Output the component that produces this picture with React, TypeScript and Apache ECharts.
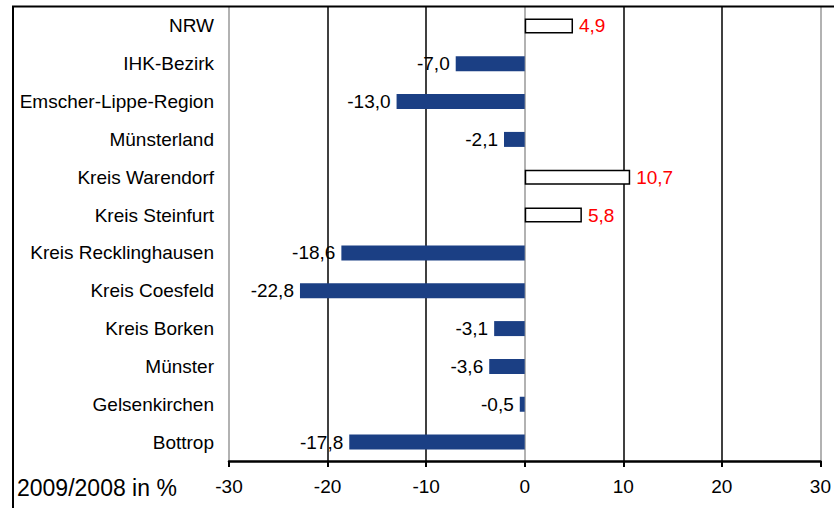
import React, { useEffect, useRef } from "react";
import * as echarts from "echarts";

const categories = [
  "NRW",
  "IHK-Bezirk",
  "Emscher-Lippe-Region",
  "Münsterland",
  "Kreis Warendorf",
  "Kreis Steinfurt",
  "Kreis Recklinghausen",
  "Kreis Coesfeld",
  "Kreis Borken",
  "Münster",
  "Gelsenkirchen",
  "Bottrop",
];
const values = [4.9, -7.0, -13.0, -2.1, 10.7, 5.8, -18.6, -22.8, -3.1, -3.6, -0.5, -17.8];
const axisTitle = "2009/2008 in %";

const FONT = "'Liberation Sans', Arial, sans-serif";

export default function App() {
  const ref = useRef<HTMLDivElement>(null);
  useEffect(() => {
    if (!ref.current) return;
    const chart = echarts.init(ref.current, null, { renderer: "svg" });
    chart.setOption({
      animation: false,
      backgroundColor: "#fff",
      textStyle: { fontFamily: FONT },
      grid: { left: 229, right: 11, top: 7, bottom: 47, containLabel: false },
      xAxis: {
        type: "value",
        min: -30,
        max: 30,
        interval: 10,
        axisLine: { show: true, lineStyle: { color: "#000", width: 2.5 } },
        axisTick: { show: true, length: 6, lineStyle: { color: "#000", width: 2 } },
        axisLabel: {
          fontSize: 19,
          color: "#000",
          fontFamily: FONT,
          margin: 16,
        },
        splitLine: {
          show: true,
          lineStyle: {
            color: ["#999", "#000", "#000", "#999", "#000", "#000", "#999"],
            width: 1.5,
          },
        },
      },
      yAxis: {
        type: "category",
        data: categories,
        inverse: true,
        axisLine: { show: false },
        axisTick: { show: false },
        splitLine: { show: false },
        axisLabel: {
          fontSize: 19,
          color: "#000",
          fontFamily: FONT,
          margin: 15,
          padding: [0, 0, 6, 0],
        },
      },
      series: [
        {
          type: "bar",
          barWidth: 15,
          data: values.map((v) => ({
            value: v,
            itemStyle:
              v >= 0
                ? { color: "#fff", borderColor: "#000", borderWidth: 1.5 }
                : { color: "#1B3F84" },
            label: {
              show: true,
              position: v >= 0 ? "right" : "left",
              distance: 6,
              color: v >= 0 ? "#FF0000" : "#000",
              fontSize: 19,
              fontFamily: FONT,
              formatter: () => v.toFixed(1).replace(".", ","),
            },
          })),
        },
      ],
      graphic: [
        {
          type: "polyline",
          shape: { points: [[13, 508], [13, 6.5], [834, 6.5]] },
          style: { stroke: "#000", lineWidth: 2, fill: null },
          z: 100,
        },
        {
          type: "text",
          left: 17,
          top: 476,
          style: {
            text: axisTitle,
            fontSize: 23,
            fill: "#000",
            fontFamily: FONT,
          },
        },
      ],
    });
    return () => chart.dispose();
  }, []);
  return (
    <div
      ref={ref}
      style={{ position: "fixed", left: 0, top: 0, width: 834, height: 508 }}
    />
  );
}
